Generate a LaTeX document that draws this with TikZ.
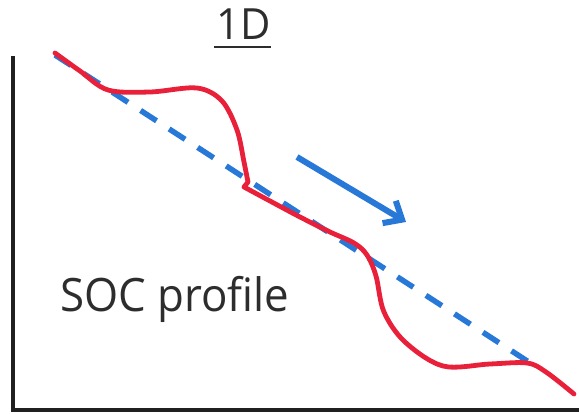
\documentclass[tikz,border=0pt]{standalone}
\usepackage{fontspec}
\setmainfont{Open Sans}
\usetikzlibrary{arrows.meta}
\definecolor{socred}{RGB}{232,32,58}
\definecolor{socblue}{RGB}{40,120,215}
\definecolor{axisgray}{RGB}{32,32,32}
\definecolor{textgray}{RGB}{45,45,45}
\tikzset{
  axisline/.style={draw=axisgray, line width=4pt},
  profile/.style={draw=socred, line width=4.8pt, line cap=round, line join=round},
  linear/.style={draw=socblue, line width=5.5pt, dash pattern=on 19pt off 15pt},
  flowarrow/.style={draw=socblue, line width=6pt, -{Straight Barb[length=15pt,width=26pt,line width=6pt]}},
  label/.style={text=textgray, inner sep=0pt, anchor=base west}
}
\begin{document}
\begin{tikzpicture}[x=1pt,y=-1pt]
\useasboundingbox (0,0) rectangle (579,414);
% axes
\draw[axisline] (13,56) -- (13,410) -- (579,410);
% title
\node[label, font=\fontsize{43}{43}\selectfont] (title) at (216,40) {\scalebox{0.97}[1]{1D}};
\draw[textgray, line width=2.5pt] (214,47) -- (271,47);
% linear reference
\coordinate (ls) at (55,55);
\coordinate (le) at (538,368);
\draw[linear] (ls) -- (le);
% profile
\draw[profile] plot[smooth, tension=0.55] coordinates {(55,53) (80,71) (108,90) (150,92) (197,88) (222,101) (237,130) (244,162) (248,182)}
  -- (244,187)
  plot[smooth, tension=0.55] coordinates {(244,187) (270,201) (300,217) (330,232) (354,243) (367,255) (376,276) (384,312) (405,342) (443,366) (490,364) (527,363) (546,372) (574,394)};
% arrow
\coordinate (as) at (297,157);
\coordinate (ae) at (406,222);
\draw[flowarrow] (as) -- (ae);
% label
\node[label, font=\fontsize{46}{46}\selectfont] (soc) at (60,312) {\scalebox{0.953}[1]{SOC profile}};
\end{tikzpicture}
\end{document}
